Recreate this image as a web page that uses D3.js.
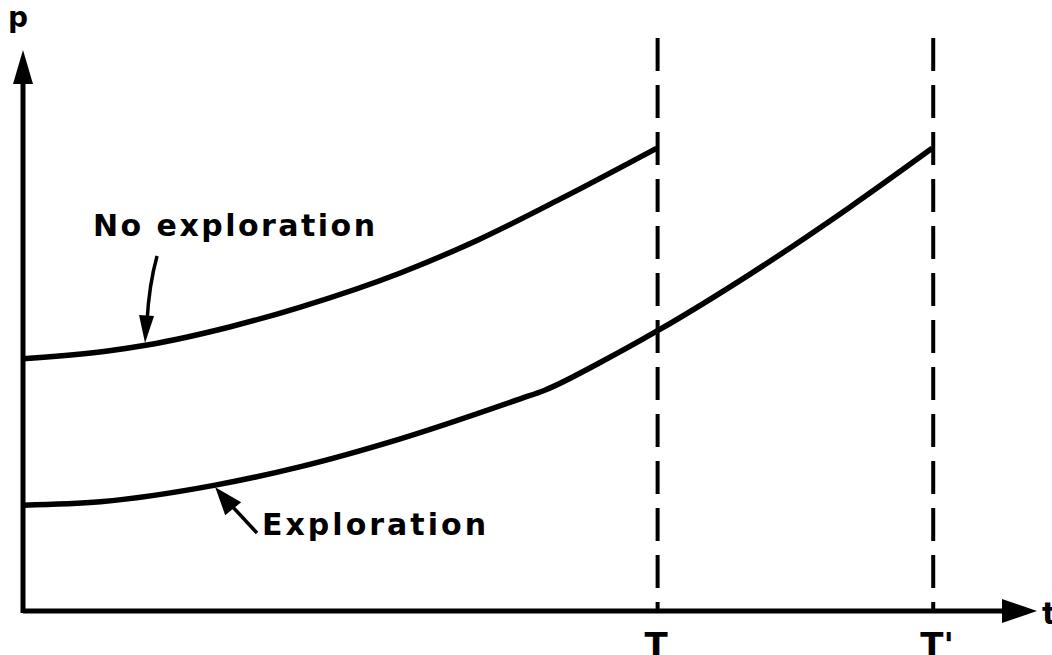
<!DOCTYPE html>
<html>
<head>
<meta charset="utf-8">
<script src="https://cdn.jsdelivr.net/npm/d3@7"></script>
<style>
  body { margin: 0; background: #fff; }
  svg { display: block; }
  text { font-family: "DejaVu Sans", sans-serif; fill: #000; }
</style>
</head>
<body>
<div id="container"></div>
<script>
// time values (arbitrary units) and price values
const noExplT = [0, 8.5, 12.2, 20.4, 27.2, 37.1, 44.9, 52.8, 62.3];
const noExplP = [44.1, 45.5, 46.5, 49.7, 53.1, 59.1, 65.0, 72.0, 80.9];

const explT = [0, 7.6, 18.9, 27.2, 37.1, 48.9, 51.3, 56.7, 62.4, 71.5, 81.3, 89.4];
const explP = [18.5, 19.1, 22.0, 25.2, 30.1, 37.1, 38.6, 43.4, 49.0, 58.9, 70.6, 80.9];

const horizons = [62.4, 89.5];
const horizonLabels = ["T", "T'"];

const width = 1052;
const height = 655;

const x = d3.scaleLinear([0, 100], [23, 1040]);
const y = d3.scaleLinear([0, 100], [611, 39]);

const svg = d3.create("svg")
    .attr("width", width)
    .attr("height", height)
    .attr("viewBox", [0, 0, width, height]);

// dashed horizon lines
svg.selectAll(".horizon")
    .data(horizons)
    .join("line")
    .attr("x1", d => x(d))
    .attr("x2", d => x(d))
    .attr("y1", 38)
    .attr("y2", y(0))
    .attr("stroke", "#000")
    .attr("stroke-width", 4)
    .attr("stroke-dasharray", "33,14");

// axes
svg.append("line")
    .attr("x1", x(0)).attr("x2", 1008)
    .attr("y1", y(0)).attr("y2", y(0))
    .attr("stroke", "#000").attr("stroke-width", 5);
svg.append("line")
    .attr("x1", x(0)).attr("x2", x(0))
    .attr("y1", y(0) + 2).attr("y2", 78)
    .attr("stroke", "#000").attr("stroke-width", 5);

// arrow heads on the axes
svg.append("path")
    .attr("d", `M${x(0)},50 L${x(0) - 10},84 L${x(0) + 10},84 Z`)
    .attr("fill", "#000");
svg.append("path")
    .attr("d", `M1037,${y(0)} L1002,${y(0) - 12} L1002,${y(0) + 12} Z`)
    .attr("fill", "#000");

// curves
const line = d3.line()
    .x(d => x(d[0]))
    .y(d => y(d[1]))
    .curve(d3.curveMonotoneX);

const noExpl = noExplT.map((t, i) => [t, noExplP[i]]);
const expl = explT.map((t, i) => [t, explP[i]]);

svg.append("path")
    .attr("fill", "none")
    .attr("stroke", "#000")
    .attr("stroke-width", 5.5)
    .attr("stroke-linejoin", "round")
    .attr("d", line(noExpl));

svg.append("path")
    .attr("fill", "none")
    .attr("stroke", "#000")
    .attr("stroke-width", 5.5)
    .attr("stroke-linejoin", "round")
    .attr("d", line(expl));

// labels
svg.append("text")
    .attr("x", 8).attr("y", 27)
    .attr("font-size", 28).attr("font-weight", "bold")
    .text("p");

svg.append("text")
    .attr("x", 1042).attr("y", 624)
    .attr("font-size", 30).attr("font-weight", "bold")
    .text("t");

svg.selectAll(".hlabel")
    .data(horizonLabels)
    .join("text")
    .attr("x", (d, i) => x(horizons[i]) - 13)
    .attr("y", 657)
    .attr("font-size", 34)
    .attr("font-weight", "bold")
    .text(d => d);

svg.append("text")
    .attr("x", 93).attr("y", 236)
    .attr("font-size", 30)
    .attr("font-weight", "bold")
    .attr("textLength", 282)
    .attr("lengthAdjust", "spacing")
    .text("No exploration");

svg.append("text")
    .attr("x", 262).attr("y", 535)
    .attr("font-size", 30)
    .attr("font-weight", "bold")
    .attr("textLength", 224)
    .attr("lengthAdjust", "spacing")
    .text("Exploration");

// leader arrow to the no-exploration curve
const tip1 = [x(12.0), y(46.5) - 2];
svg.append("path")
    .attr("fill", "none").attr("stroke", "#000").attr("stroke-width", 3.5)
    .attr("d", `M${tip1[0] + 12},256 Q${tip1[0] + 4},285 ${tip1[0] + 2},${tip1[1] - 22}`);
svg.append("path")
    .attr("fill", "#000")
    .attr("d", `M${tip1[0]},${tip1[1]} L${tip1[0] - 6},${tip1[1] - 28} L${tip1[0] + 9},${tip1[1] - 27} Z`);

// leader arrow to the exploration curve
const tip2 = [x(18.9), y(22.0) + 2];
svg.append("line")
    .attr("stroke", "#000").attr("stroke-width", 3.5)
    .attr("x1", 257).attr("y1", 533)
    .attr("x2", tip2[0] + 14).attr("y2", tip2[1] + 16);
svg.append("path")
    .attr("fill", "#000")
    .attr("d", `M${tip2[0]},${tip2[1]} L${tip2[0] + 26},${tip2[1] + 15} L${tip2[0] + 10},${tip2[1] + 28} Z`);

document.getElementById("container").append(svg.node());
</script>
</body>
</html>
